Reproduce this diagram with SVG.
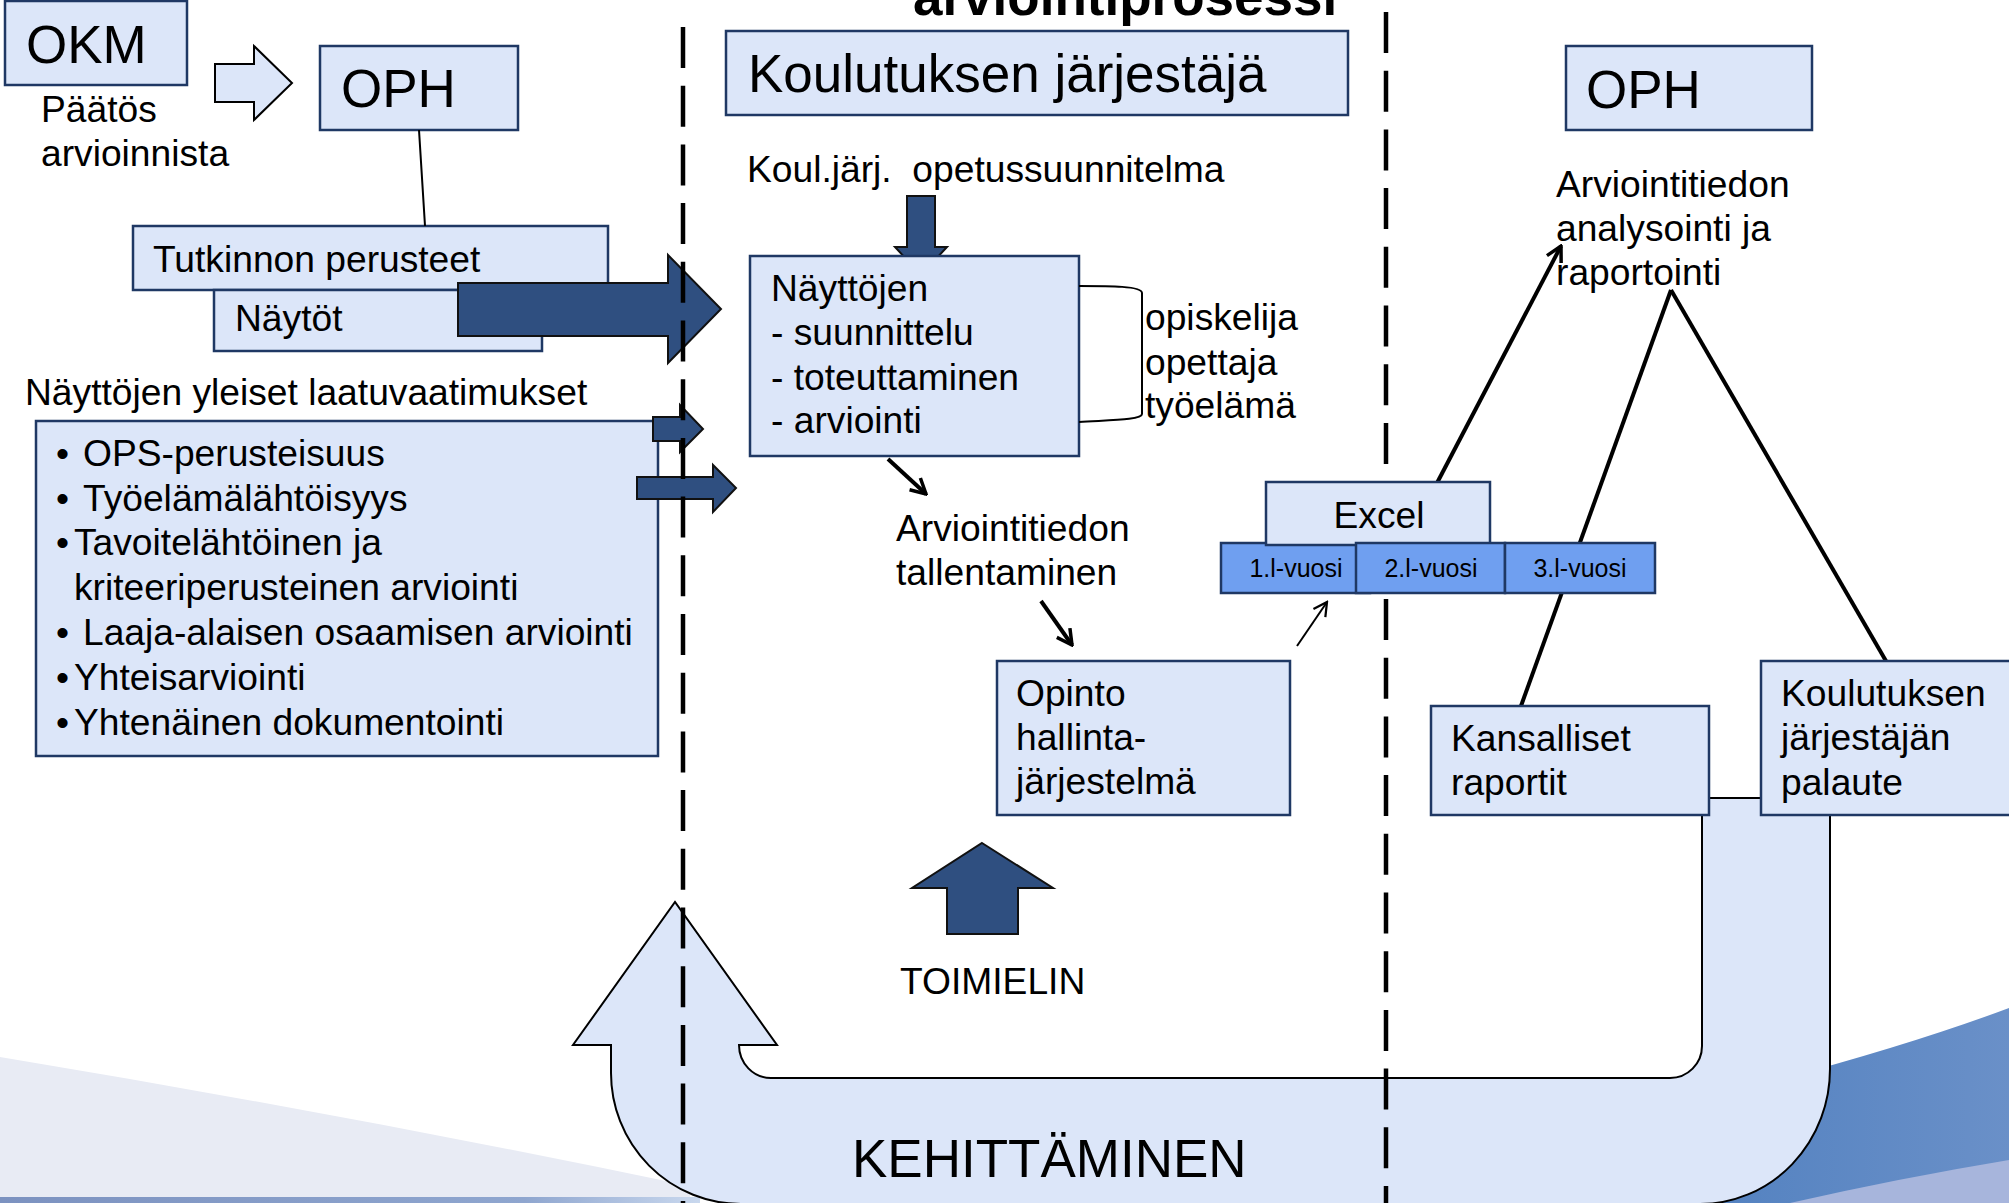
<svg xmlns="http://www.w3.org/2000/svg" width="2009" height="1203" viewBox="0 0 2009 1203">
<defs>
<style>
.box{fill:#dce6f9;stroke:#1f3864;stroke-width:2.5}
.yr{fill:#6f9ff0;stroke:#1f3864;stroke-width:2.5}
.dark{fill:#2f4f80;stroke:#111;stroke-width:2}
.pale{fill:#dce6f9;stroke:#000;stroke-width:2}
.t{font-family:"Liberation Sans",Arial,sans-serif;fill:#000;font-size:37.2px}
.big{font-size:53px}
.sm{font-size:25px}
.dash{stroke:#000;stroke-width:4.5;stroke-dasharray:41 17.7;fill:none}
.ln{stroke:#000;stroke-width:4;fill:none}
.thin{stroke:#000;stroke-width:2;fill:none}
</style>
<marker id="ah" viewBox="0 0 20 20" refX="18" refY="10" markerWidth="20" markerHeight="20" markerUnits="userSpaceOnUse" orient="auto">
<path d="M3,2 L18,10 L3,18" fill="none" stroke="#000" stroke-width="3.5"/>
</marker>
<marker id="ahs" viewBox="0 0 20 20" refX="18" refY="10" markerWidth="18" markerHeight="18" markerUnits="userSpaceOnUse" orient="auto">
<path d="M3,2 L18,10 L3,18" fill="none" stroke="#000" stroke-width="2.5"/>
</marker>
<linearGradient id="gblue" x1="0" y1="0" x2="1" y2="0">
<stop offset="0" stop-color="#4f7fbf"/>
<stop offset="1" stop-color="#6a90c8"/>
</linearGradient>
<linearGradient id="gstripe" x1="0" y1="0" x2="1" y2="0">
<stop offset="0" stop-color="#7c92c0"/>
<stop offset="0.75" stop-color="#8fa6cf"/>
<stop offset="1" stop-color="#c9d8ee"/>
</linearGradient>
</defs>

<g id="background">
<rect x="0" y="0" width="2009" height="1203" fill="#fff"/>
<path d="M0,1057 Q350,1115 690,1186 L690,1203 L0,1203 Z" fill="#e8ebf4"/>
<rect x="0" y="1197" width="700" height="6" fill="url(#gstripe)"/>
<path d="M1650,1203 L1650,1112 Q1870,1060 2009,1008 L2009,1203 Z" fill="url(#gblue)"/>
<path d="M1790,1203 Q1900,1178 2009,1160 L2009,1203 Z" fill="#a7b5dc"/>
</g>

<g id="kehittaminen">
<path class="pale" d="M1702,798 L1830,798 L1830,1068 A130,135 0 0 1 1700,1204 L741,1204 A130,131 0 0 1 611,1073 L611,1045 L573,1045 L675,902 L777,1045 L739,1045 A32,33 0 0 0 771,1078 L1670,1078 A32,32 0 0 0 1702,1046 Z"/>
<text class="t" x="852" y="1177" style="font-size:53px">KEHITTÄMINEN</text>
</g>

<g id="okm">
<rect class="box" x="5" y="1" width="182" height="84"/>
<text class="t big" x="26" y="63">OKM</text>
<text class="t" x="41" y="122">Päätös</text>
<text class="t" x="41" y="166">arvioinnista</text>
</g>

<g id="oph-left">
<rect class="box" x="320" y="46" width="198" height="84"/>
<text class="t big" x="341" y="107">OPH</text>
</g>

<g id="tutkinnon-perusteet">
<rect class="box" x="133" y="226" width="475" height="64"/>
<text class="t" x="153" y="272">Tutkinnon perusteet</text>
</g>

<g id="naytot">
<rect class="box" x="214" y="290" width="328" height="61"/>
<text class="t" x="235" y="331">Näytöt</text>
</g>

<g id="laatuvaatimukset">
<text class="t" x="25" y="405">Näyttöjen yleiset laatuvaatimukset</text>
<rect class="box" x="36" y="421" width="622" height="335"/>
<text class="t" x="56" y="466">•</text><text class="t" x="83" y="466">OPS-perusteisuus</text>
<text class="t" x="56" y="511">•</text><text class="t" x="83" y="511">Työelämälähtöisyys</text>
<text class="t" x="56" y="555">•</text><text class="t" x="74" y="555">Tavoitelähtöinen ja</text>
<text class="t" x="74" y="600">kriteeriperusteinen arviointi</text>
<text class="t" x="56" y="645">•</text><text class="t" x="83" y="645">Laaja-alaisen osaamisen arviointi</text>
<text class="t" x="56" y="690">•</text><text class="t" x="74" y="690">Yhteisarviointi</text>
<text class="t" x="56" y="735">•</text><text class="t" x="74" y="735">Yhtenäinen dokumentointi</text>
</g>

<g id="title">
<text class="t" x="913" y="15" style="font-size:53px;font-weight:bold">arviointiprosessi</text>
</g>

<g id="koulutuksen-jarjestaja">
<rect class="box" x="726" y="31" width="622" height="84"/>
<text class="t big" x="748" y="92">Koulutuksen järjestäjä</text>
<text class="t" x="747" y="182" style="white-space:pre">Koul.järj.  opetussuunnitelma</text>
</g>

<g id="toimielin">
<path class="dark" d="M982,843 L1053,888 L1018,888 L1018,934 L947,934 L947,888 L912,888 Z"/>
<text class="t" x="900" y="994">TOIMIELIN</text>
</g>

<g id="dark-arrows">
<path class="dark" d="M458,283 L668,283 L668,255 L721,309 L668,363 L668,336 L458,336 Z"/>
<path class="dark" d="M653,417 L680,417 L680,405 L703,429 L680,452 L680,441 L653,441 Z"/>
<path class="dark" d="M637,477 L713,477 L713,465 L736,488 L713,512 L713,499 L637,499 Z"/>
<path class="dark" d="M907,196 L935,196 L935,247 L947,247 L921,275 L895,247 L907,247 Z"/>
<path class="pale" d="M215,64 L254,64 L254,46 L292,83 L254,120 L254,102 L215,102 Z"/>
</g>

<g id="naytot-prosessi">
<rect class="box" x="750" y="256" width="329" height="200"/>
<text class="t" x="771" y="301">Näyttöjen</text>
<text class="t" x="771" y="345">- suunnittelu</text>
<text class="t" x="771" y="390">- toteuttaminen</text>
<text class="t" x="771" y="433">- arviointi</text>
<path class="thin" d="M1079,286 C1110,286 1142,286 1142,293 L1142,414 C1142,420 1110,420 1079,422"/>
<text class="t" x="1145" y="330">opiskelija</text>
<text class="t" x="1145" y="375">opettaja</text>
<text class="t" x="1145" y="418">työelämä</text>
</g>

<g id="dividers">
<line class="dash" x1="683" y1="27" x2="683" y2="1203"/>
<line class="dash" x1="1386" y1="12" x2="1386" y2="1203"/>
</g>

<g id="connectors">
<line class="thin" x1="419" y1="130" x2="425" y2="226"/>
<line class="ln" x1="888" y1="459" x2="926" y2="494" marker-end="url(#ah)"/>
<line class="ln" x1="1041" y1="601" x2="1072" y2="645" marker-end="url(#ah)"/>
<line class="thin" x1="1297" y1="646" x2="1327" y2="602" marker-end="url(#ahs)"/>
<line class="ln" x1="1437" y1="483" x2="1561" y2="246" marker-end="url(#ah)"/>
<line class="ln" x1="1521" y1="706" x2="1671" y2="290"/>
<line class="ln" x1="1671" y1="290" x2="1886" y2="661"/>
</g>

<g id="tallentaminen">
<text class="t" x="896" y="541">Arviointitiedon</text>
<text class="t" x="896" y="585">tallentaminen</text>
</g>

<g id="opintohallinta">
<rect class="box" x="997" y="661" width="293" height="154"/>
<text class="t" x="1016" y="706">Opinto</text>
<text class="t" x="1016" y="750">hallinta-</text>
<text class="t" x="1016" y="794">järjestelmä</text>
</g>

<g id="excel">
<rect class="yr" x="1221" y="543" width="149" height="50"/>
<rect class="box" x="1266" y="482" width="224" height="63"/>
<rect class="yr" x="1356" y="543" width="149" height="50"/>
<rect class="yr" x="1505" y="543" width="150" height="50"/>
<text class="t" x="1379" y="528" text-anchor="middle">Excel</text>
<text class="t sm" x="1296" y="577" text-anchor="middle">1.l-vuosi</text>
<text class="t sm" x="1431" y="577" text-anchor="middle">2.l-vuosi</text>
<text class="t sm" x="1580" y="577" text-anchor="middle">3.l-vuosi</text>
</g>

<g id="oph-right">
<rect class="box" x="1566" y="46" width="246" height="84"/>
<text class="t big" x="1586" y="108">OPH</text>
<text class="t" x="1556" y="197">Arviointitiedon</text>
<text class="t" x="1556" y="241">analysointi ja</text>
<text class="t" x="1556" y="285">raportointi</text>
</g>

<g id="kansalliset-raportit">
<rect class="box" x="1431" y="706" width="278" height="109"/>
<text class="t" x="1451" y="751">Kansalliset</text>
<text class="t" x="1451" y="795">raportit</text>
</g>

<g id="jarjestajan-palaute">
<rect class="box" x="1761" y="661" width="260" height="154"/>
<text class="t" x="1781" y="706">Koulutuksen</text>
<text class="t" x="1781" y="750">järjestäjän</text>
<text class="t" x="1781" y="795">palaute</text>
</g>
</svg>
